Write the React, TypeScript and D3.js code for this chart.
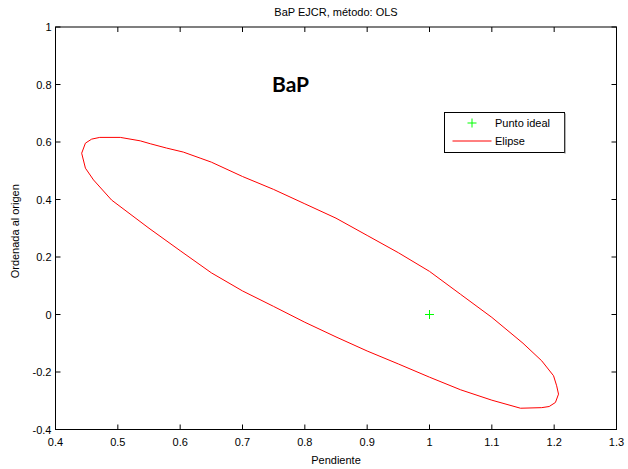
import React, { useRef, useEffect } from "react";
import * as d3 from "d3";

// ellipse outline (Pendiente, Ordenada), going round
const ellipseX = [
  0.442, 0.448, 0.458, 0.471, 0.504, 0.536, 0.552, 0.578, 0.605, 0.632, 0.65, 0.7,
  0.75, 0.8, 0.85, 0.9, 0.95, 1.0, 1.05, 1.1, 1.15, 1.18, 1.199, 1.204, 1.207,
  1.202, 1.192, 1.18, 1.146, 1.1, 1.05, 1.0, 0.95, 0.9, 0.85, 0.8, 0.75, 0.7,
  0.65, 0.6, 0.55, 0.49, 0.461, 0.448, 0.442,
];
const ellipseY = [
  0.561, 0.596, 0.61, 0.616, 0.616, 0.604, 0.594, 0.579, 0.565, 0.544, 0.53, 0.48,
  0.435, 0.385, 0.335, 0.275, 0.215, 0.15, 0.07, -0.01, -0.1, -0.161, -0.213, -0.248, -0.277,
  -0.306, -0.32, -0.324, -0.326, -0.298, -0.262, -0.218, -0.172, -0.127, -0.078, -0.027, 0.028, 0.082,
  0.145, 0.222, 0.3, 0.398, 0.468, 0.509, 0.561,
];
const idealPoint = [1, 0];

const xTicks = [0.4, 0.5, 0.6, 0.7, 0.8, 0.9, 1, 1.1, 1.2, 1.3];
const yTicks = [-0.4, -0.2, 0, 0.2, 0.4, 0.6, 0.8, 1];
const legendLabels = ["Punto ideal", "Elipse"];

const App = () => {
  const svgRef = useRef<SVGSVGElement>(null);

  useEffect(() => {
    const svg = d3.select(svgRef.current);
    svg.selectAll("*").remove();

    const left = 55.5, right = 616.5, top = 27, bottom = 429.5;
    const font = "'Liberation Sans', Arial, sans-serif";

    const x = d3.scaleLinear().domain([0.4, 1.3]).range([left, right]);
    const y = d3.scaleLinear().domain([-0.4, 1]).range([bottom, top]);

    // box
    svg
      .append("rect")
      .attr("x", left)
      .attr("y", top)
      .attr("width", right - left)
      .attr("height", bottom - top)
      .attr("fill", "white")
      .attr("stroke", "black")
      .attr("stroke-width", 1);

    // inward ticks on all four sides
    const tl = 5;
    const g = svg.append("g").attr("stroke", "black").attr("stroke-width", 1);
    xTicks.forEach((t) => {
      g.append("line").attr("x1", x(t)).attr("x2", x(t)).attr("y1", bottom).attr("y2", bottom - tl);
      g.append("line").attr("x1", x(t)).attr("x2", x(t)).attr("y1", top).attr("y2", top + tl);
    });
    yTicks.forEach((t) => {
      g.append("line").attr("x1", left).attr("x2", left + tl).attr("y1", y(t)).attr("y2", y(t));
      g.append("line").attr("x1", right).attr("x2", right - tl).attr("y1", y(t)).attr("y2", y(t));
    });

    // tick labels
    svg
      .append("g")
      .selectAll("text")
      .data(xTicks)
      .join("text")
      .attr("x", (d) => x(d))
      .attr("y", bottom + 16)
      .attr("text-anchor", "middle")
      .style("font-family", font)
      .style("font-size", "11px")
      .text((d) => String(d));

    svg
      .append("g")
      .selectAll("text")
      .data(yTicks)
      .join("text")
      .attr("x", left - 4)
      .attr("y", (d) => y(d) + 4)
      .attr("text-anchor", "end")
      .style("font-family", font)
      .style("font-size", "11px")
      .text((d) => String(d));

    // title and axis labels
    svg
      .append("text")
      .attr("x", (left + right) / 2)
      .attr("y", 16)
      .attr("text-anchor", "middle")
      .style("font-family", font)
      .style("font-size", "11px")
      .text("BaP EJCR, método: OLS");

    svg
      .append("text")
      .attr("x", (left + right) / 2)
      .attr("y", 464)
      .attr("text-anchor", "middle")
      .style("font-family", font)
      .style("font-size", "11px")
      .text("Pendiente");

    svg
      .append("text")
      .attr("transform", `translate(19, ${(top + bottom) / 2 + 3}) rotate(-90)`)
      .attr("text-anchor", "middle")
      .style("font-family", font)
      .style("font-size", "11px")
      .text("Ordenada al origen");

    // ellipse
    const pts: [number, number][] = ellipseX.map((d, i) => [d, ellipseY[i]]);
    svg
      .append("path")
      .datum(pts)
      .attr("fill", "none")
      .attr("stroke", "#ff0000")
      .attr("stroke-width", 1)
      .attr(
        "d",
        d3
          .line<[number, number]>()
          .x((d) => x(d[0]))
          .y((d) => y(d[1]))
      );

    // ideal point marker
    const plus = (cx: number, cy: number) => {
      svg
        .append("path")
        .attr("d", `M${cx - 4.5},${cy}H${cx + 4.5}M${cx},${cy - 4.5}V${cy + 4.5}`)
        .attr("stroke", "#00ff00")
        .attr("stroke-width", 1);
    };
    plus(x(idealPoint[0]), y(idealPoint[1]));

    // big label
    svg
      .append("text")
      .attr("x", 272)
      .attr("y", 92)
      .style("font-family", "Lato, 'Open Sans', sans-serif")
      .style("font-weight", "bold")
      .style("font-size", "21px")
      .text("BaP");

    // legend
    const lg = svg.append("g").attr("transform", "translate(444.5, 112.5)");
    lg.append("rect")
      .attr("width", 120)
      .attr("height", 40)
      .attr("fill", "white")
      .attr("stroke", "black");
    lg.append("line")
      .attr("x1", 120.5)
      .attr("x2", 120.5)
      .attr("y1", 1)
      .attr("y2", 41)
      .attr("stroke", "#666");
    plus(472, 123);
    lg.append("line")
      .attr("x1", 8)
      .attr("x2", 47)
      .attr("y1", 28.5)
      .attr("y2", 28.5)
      .attr("stroke", "#ff0000");
    lg.selectAll("text.leg")
      .data(legendLabels)
      .join("text")
      .attr("class", "leg")
      .attr("x", 50.5)
      .attr("y", (d, i) => 14.5 + i * 18)
      .style("font-family", font)
      .style("font-size", "11px")
      .text((d) => d);
  }, []);

  return (
    <svg
      ref={svgRef}
      width={628}
      height={469}
      style={{ position: "absolute", left: 0, top: 0, background: "white" }}
    ></svg>
  );
};

export default App;
